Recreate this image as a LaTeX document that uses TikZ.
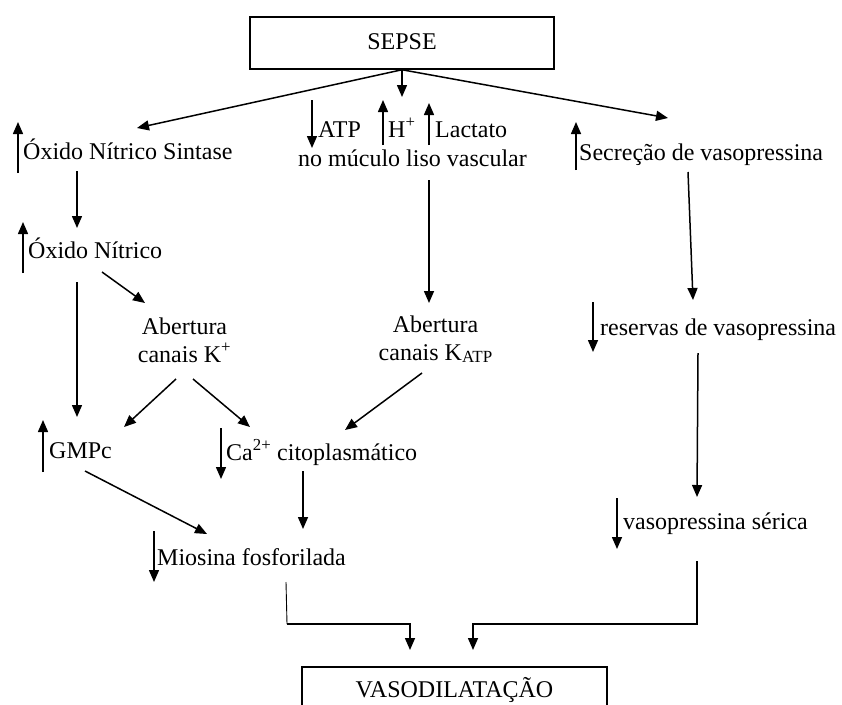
\documentclass[tikz,border=0pt]{standalone}
\usepackage{fontspec}
\setmainfont{Liberation Serif}
\usetikzlibrary{arrows.meta}
\begin{document}
\begin{tikzpicture}[x=1pt,y=-1pt,
  arr/.style={-{Triangle[length=12pt,width=10pt]}, line width=1.5pt},
  ln/.style={line width=1.5pt},
  thin line/.style={line width=0.9pt},
  lbl/.style={anchor=base west, inner sep=0pt, font=\fontsize{24}{28}\selectfont},
  clbl/.style={anchor=base, inner sep=0pt, font=\fontsize{24}{28}\selectfont},
  twoline/.style={anchor=base, inner sep=0pt, align=center, font=\fontsize{24}{28}\selectfont},
  box/.style={draw, line width=1.5pt, inner sep=0pt, font=\fontsize{24}{28}\selectfont}]
\useasboundingbox (0,0) rectangle (842,704);
\clip (0,0) rectangle (842,704);

% boxes
\node[box, minimum width=304pt, minimum height=52pt, text height=14pt, text depth=2pt] (sepse) at (402,43) {SEPSE};
\node[box, minimum width=305pt, minimum height=52pt, text height=12pt, text depth=4pt] (vaso) at (454.5,693) {VASODILATAÇÃO};

% labels
\node[lbl] (ons) at (23,159) {Óxido Nítrico Sintase};
\node[lbl] (atp) at (318,137) {ATP};
\node[lbl] (hplus) at (388,137) {H\textsuperscript{+}};
\node[lbl] (lact) at (435,137) {Lactato};
\node[clbl] (musc) at (412.5,166) {no múculo liso vascular};
\node[lbl] (secr) at (579,160) {Secreção de vasopressina};
\node[lbl] (on) at (28,258) {Óxido Nítrico};
\node[twoline] (abk) at (184.5,362) {Abertura\\canais K\textsuperscript{+}};
\node[twoline] (abkatp) at (435.5,360) {Abertura\\canais K\raisebox{-0.25ex}{\fontsize{17}{17}\selectfont ATP}};
\node[lbl] (gmpc) at (49,458) {GMPc};
\node[lbl] (ca) at (226,460) {Ca\textsuperscript{2+} citoplasmático};
\node[lbl] (res) at (600,335) {reservas de vasopressina};
\node[lbl] (mio) at (157,565) {Miosina fosforilada};
\node[lbl] (ser) at (623,529) {vasopressina sérica};

% indicator arrows
\draw[arr] (18,173) -- (18,122);
\draw[arr] (312,100) -- (312,148);
\draw[arr] (383,145) -- (383,100);
\draw[arr] (429,145) -- (429,103);
\draw[arr] (576,170) -- (576,122);
\draw[arr] (23,273) -- (23,222);
\draw[arr] (43,472) -- (43,420);
\draw[arr] (221,428) -- (221,479);
\draw[arr] (154,531) -- (154,582);
\draw[arr] (593,302) -- (593,352);
\draw[arr] (617,498) -- (617,549);

% connectors
\draw[arr] (sepse.south) -- (402,97);
\draw[arr] (sepse.south) -- (137,128);
\draw[arr] (sepse.south) -- (668,118);
\draw[arr] (77,171) -- (77,228);
\draw[arr] (77,282) -- (77,417);
\draw[arr] (102,272) -- (145,303);
\draw[arr] (429,180) -- (429,303);
\draw[arr] (688,172) -- (693,300);
\draw[arr] (176,379) -- (124,427);
\draw[arr] (193,379) -- (250,427);
\draw[arr] (422,373) -- (345,430);
\draw[arr] (698,353) -- (697,497);
\draw[arr] (85,471) -- (207,534);
\draw[arr] (303,471) -- (303,529);
\draw[thin line] (286,582) -- (287,624);
\draw[arr] (286.5,624) -- (410,624) -- (410,650);
\draw[arr] (697,561) -- (697,624) -- (473,624) -- (473,650);
\end{tikzpicture}
\end{document}
